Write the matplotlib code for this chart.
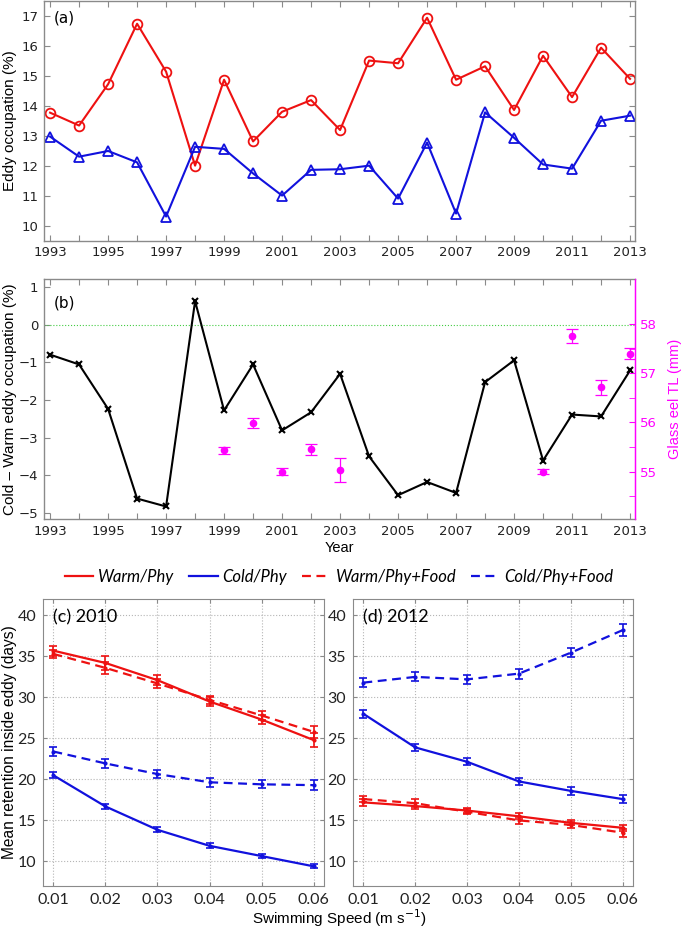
import numpy as np
import matplotlib
matplotlib.use('Agg')
import matplotlib.pyplot as plt
from matplotlib.lines import Line2D

# panel (a)/(b): yearly series
years = list(range(1993, 2014))
warm_occ = [13.77, 13.34, 14.72, 16.74, 15.14, 12.0, 14.87, 12.81, 13.8, 14.19, 13.19,
            15.51, 15.42, 16.94, 14.87, 15.32, 13.86, 15.67, 14.29, 15.94, 14.9]
cold_occ = [12.97, 12.3, 12.49, 12.11, 10.3, 12.63, 12.56, 11.74, 11.0, 11.86, 11.88,
            12.0, 10.9, 12.77, 10.4, 13.78, 12.93, 12.04, 11.9, 13.5, 13.67]
diff_occ = [-0.8, -1.06, -2.24, -4.62, -4.83, 0.62, -2.28, -1.06, -2.81, -2.33, -1.31,
            -3.5, -4.53, -4.18, -4.47, -1.53, -0.95, -3.61, -2.39, -2.44, -1.22]
eel_years = [1999, 2000, 2001, 2002, 2003, 2010, 2011, 2012, 2013]
eel_tl = [55.43, 55.99, 55.0, 55.45, 55.03, 55.0, 57.76, 56.71, 57.40]
eel_err = [0.07, 0.10, 0.07, 0.11, 0.25, 0.05, 0.14, 0.16, 0.115]

# panel (c)/(d): retention vs swimming speed
speeds = [0.01, 0.02, 0.03, 0.04, 0.05, 0.06]
c_warm_phy = [35.7, 34.2, 32.1, 29.5, 27.3, 24.8]
c_warm_food = [35.3, 33.6, 31.7, 29.7, 27.8, 25.8]
c_cold_phy = [20.5, 16.7, 13.85, 11.9, 10.65, 9.4]
c_cold_food = [23.4, 21.95, 20.65, 19.65, 19.4, 19.3]
c_warm_phy_err = [0.6, 0.8, 0.6, 0.55, 0.6, 0.8]
c_warm_food_err = [0.5, 0.7, 0.5, 0.5, 0.6, 0.7]
c_cold_phy_err = [0.35, 0.3, 0.3, 0.3, 0.25, 0.25]
c_cold_food_err = [0.5, 0.55, 0.5, 0.55, 0.5, 0.6]

d_warm_phy = [17.2, 16.75, 16.2, 15.5, 14.7, 14.1]
d_warm_food = [17.6, 17.1, 16.05, 15.0, 14.45, 13.5]
d_cold_phy = [28.0, 23.9, 22.15, 19.75, 18.6, 17.6]
d_cold_food = [31.8, 32.5, 32.2, 32.9, 35.45, 38.2]
d_warm_phy_err = [0.4, 0.4, 0.3, 0.35, 0.3, 0.4]
d_warm_food_err = [0.4, 0.45, 0.3, 0.45, 0.4, 0.5]
d_cold_phy_err = [0.5, 0.45, 0.45, 0.45, 0.45, 0.45]
d_cold_food_err = [0.55, 0.55, 0.55, 0.6, 0.55, 0.7]

legend_labels = ['Warm/Phy', 'Cold/Phy', 'Warm/Phy+Food', 'Cold/Phy+Food']

RED = '#ee1111'
BLUE = '#1111dd'
MAG = '#ff00ff'
FRAME = '#8a8a8a'
NARROW = ['Liberation Sans Narrow', 'DejaVu Sans']
SANS = ['Liberation Sans', 'DejaVu Sans']
CAL = ['Lato', 'DejaVu Sans']

W, H = 685, 933
fig = plt.figure(figsize=(W / 100, H / 100), dpi=100)


def box(l, t, r, b):
    return [l / W, 1 - b / H, (r - l) / W, (b - t) / H]


def style_year_axis(ax):
    for s in ax.spines.values():
        s.set_color(FRAME)
        s.set_linewidth(1.0)
    ax.set_xlim(1992.79, 2013.17)
    ax.set_xticks(years)
    ax.set_xticklabels([str(y) if y % 2 == 1 else '' for y in years])
    ax.tick_params(direction='in', length=4, color=FRAME, labelsize=9.5,
                   top=True, labelcolor='#222222', pad=4)
    for lab in ax.get_xticklabels() + ax.get_yticklabels():
        lab.set_family(NARROW)


# ---- (a)
ax1 = fig.add_axes(box(44, 1, 635, 240.5))
ax1.plot(years, warm_occ, '-o', color=RED, mfc='none', ms=7, mew=1.3, lw=1.5)
ax1.plot(years, cold_occ, '-^', color=BLUE, mfc='none', ms=7.5, mew=1.3, lw=1.5)
ax1.set_ylim(9.5, 17.5)
ax1.set_yticks(range(10, 18))
ax1.tick_params(right=True)
style_year_axis(ax1)
ax1.set_ylabel('Eddy occupation (%)', family=SANS, fontsize=11)
ax1.yaxis.set_label_coords((17 - 44) / 591, 0.5)
ax1.text(0.016, 0.93, '(a)', transform=ax1.transAxes, family=NARROW, fontsize=11,
         va='center')

# ---- (b)
ax2 = fig.add_axes(box(44, 279.3, 635, 519.3))
ax2.axhline(0, color='#44cc44', lw=0.8, ls=':')
ax2.plot(years, diff_occ, '-x', color='black', ms=5, mew=1.5, lw=1.5)
ax2.set_ylim(-5.17, 1.2)
ax2.set_yticks(range(-5, 2))
style_year_axis(ax2)
ax2.spines['right'].set_color(MAG)
ax2.set_ylabel('Cold – Warm eddy occupation (%)', family=SANS, fontsize=11)
ax2.yaxis.set_label_coords((17 - 44) / 591, 0.5)
ax2.set_xlabel('Year', family=SANS, fontsize=10.5, labelpad=2)
ax2.text(0.016, 0.9, '(b)', transform=ax2.transAxes, family=NARROW, fontsize=11,
         va='center')

ax2r = ax2.twinx()
ax2r.errorbar(eel_years, eel_tl, yerr=eel_err, fmt='o', color=MAG, ms=4.5,
              capsize=4, elinewidth=0.9, capthick=0.9)
ax2r.set_ylim(54.03, 58.91)
ax2r.set_yticks([55, 56, 57, 58])
ax2r.set_yticks([54.5, 55.5, 56.5, 57.5], minor=True)
ax2r.tick_params(axis='y', which='both', direction='in', color=MAG, labelcolor=MAG,
                 labelsize=9.5, length=4)
for lab in ax2r.get_yticklabels():
    lab.set_family(NARROW)
for s in ax2r.spines.values():
    s.set_visible(False)
ax2r.spines['right'].set_visible(True)
ax2r.spines['right'].set_color(MAG)
ax2r.set_ylabel('Glass eel TL (mm)', color=MAG, family=SANS, fontsize=10.5)
ax2r.yaxis.set_label_coords((668 - 44) / 591, 0.5)

# ---- (c) and (d)
dash = (0, (4, 2.5))


def panel(ax, wp, wf, cp, cf, wpe, wfe, cpe, cfe, label):
    kw = dict(marker='.', ms=4, capsize=3, elinewidth=1.2, capthick=1.2, lw=1.6)
    ax.errorbar(speeds, wp, yerr=wpe, color=RED, ls='-', **kw)
    ax.errorbar(speeds, cp, yerr=cpe, color=BLUE, ls='-', **kw)
    ax.errorbar(speeds, wf, yerr=wfe, color=RED, ls=dash, **kw)
    ax.errorbar(speeds, cf, yerr=cfe, color=BLUE, ls=dash, **kw)
    ax.set_xlim(0.008, 0.062)
    ax.set_ylim(7, 42)
    ax.set_xticks(speeds)
    ax.set_xticklabels(['%.2f' % s for s in speeds])
    ax.set_yticks(range(10, 41, 5))
    ax.grid(True, ls=':', color='#b5b5b5', lw=0.8)
    for s in ax.spines.values():
        s.set_color(FRAME)
    ax.tick_params(direction='in', length=3, color=FRAME, labelsize=11.5,
                   labelcolor='#222222', top=True, right=True, pad=5)
    for lab in ax.get_xticklabels() + ax.get_yticklabels():
        lab.set_family(CAL)
    ax.text(0.035, 0.935, label, transform=ax.transAxes, family=CAL, fontsize=13,
            va='center')


ax3 = fig.add_axes(box(43, 599, 324, 886))
panel(ax3, c_warm_phy, c_warm_food, c_cold_phy, c_cold_food,
      c_warm_phy_err, c_warm_food_err, c_cold_phy_err, c_cold_food_err, '(c) 2010')
ax3.set_ylabel('Mean retention inside eddy (days)', family=SANS, fontsize=11.2)
ax3.yaxis.set_label_coords((17 - 43) / 281, 0.5)

ax4 = fig.add_axes(box(353, 599, 633, 886))
panel(ax4, d_warm_phy, d_warm_food, d_cold_phy, d_cold_food,
      d_warm_phy_err, d_warm_food_err, d_cold_phy_err, d_cold_food_err, '(d) 2012')

fig.text(340 / W, 1 - 918 / H, 'Swimming Speed (m s$^{-1}$)', family=SANS,
         fontsize=11, ha='center', va='center')

handles = [Line2D([], [], color=RED, lw=1.6),
           Line2D([], [], color=BLUE, lw=1.6),
           Line2D([], [], color=RED, lw=1.6, ls=dash),
           Line2D([], [], color=BLUE, lw=1.6, ls=dash)]
fig.legend(handles, legend_labels, loc='center', bbox_to_anchor=(339 / W, 1 - 577 / H),
           ncol=4, frameon=False, handlelength=1.7, handletextpad=0.3,
           columnspacing=0.9, prop={'family': CAL, 'style': 'italic', 'size': 12})

fig.savefig('out.png', dpi=100)
